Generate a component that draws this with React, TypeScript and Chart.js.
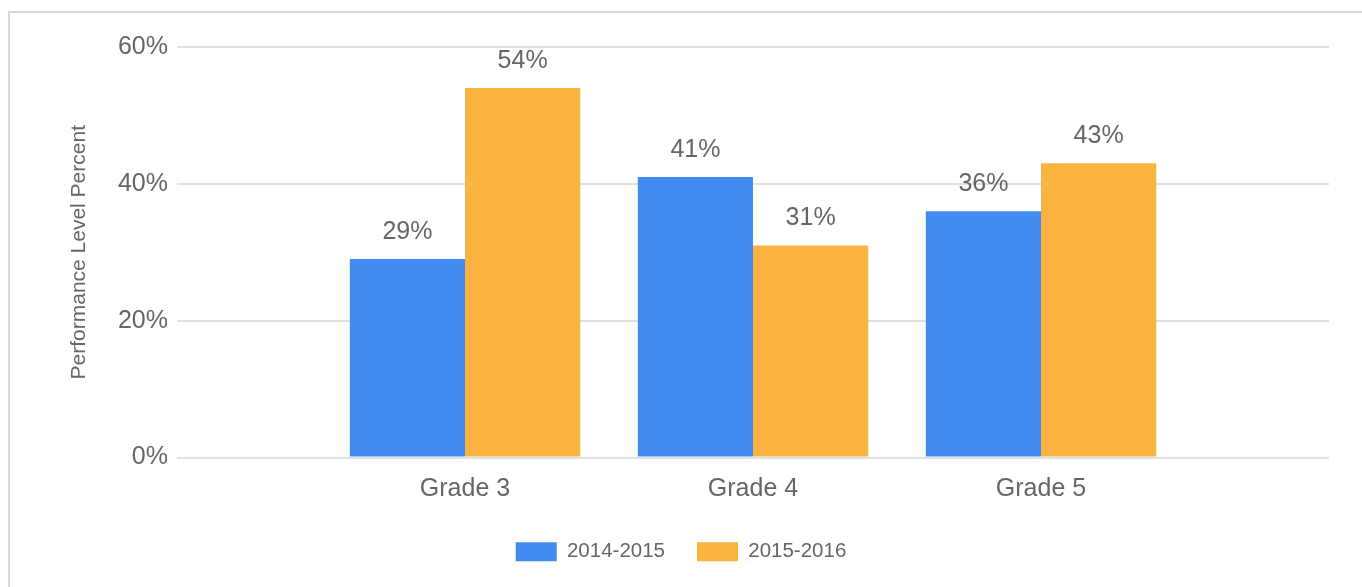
import React, { useEffect, useRef } from "react";
import { Chart, registerables } from "chart.js";

Chart.register(...registerables);

const categories = ["Grade 3", "Grade 4", "Grade 5"];
const seriesNames = ["2014-2015", "2015-2016"];
const values2014 = [29, 41, 36];
const values2015 = [54, 31, 43];
const colors = ["#428bf0", "#fab33f"];
const yTicks = [0, 20, 40, 60];
const yTitle = "Performance Level Percent";

const FONT = "'Liberation Sans', Arial, sans-serif";
const TEXT = "#666666";

const framePlugin = {
  id: "frame",
  beforeDraw(chart: any) {
    const ctx = chart.ctx;
    ctx.save();
    ctx.fillStyle = "#ffffff";
    ctx.fillRect(0, 0, chart.width, chart.height);
    ctx.fillStyle = "#d9d9d9";
    ctx.fillRect(8, 11, chart.width - 8, 2);
    ctx.fillRect(8, 11, 2, chart.height - 11);
    ctx.restore();
  },
};

const labelPlugin = {
  id: "barLabels",
  afterDatasetsDraw(chart: any) {
    const ctx = chart.ctx;
    ctx.save();
    ctx.font = `25px ${FONT}`;
    ctx.fillStyle = TEXT;
    ctx.textAlign = "center";
    ctx.textBaseline = "alphabetic";
    chart.data.datasets.forEach((ds: any, di: number) => {
      const meta = chart.getDatasetMeta(di);
      meta.data.forEach((bar: any, i: number) => {
        const v = ds.data[i].y;
        ctx.fillText(`${v}%`, bar.x, bar.y - 20);
      });
    });
    ctx.restore();
  },
};

export default function App() {
  const ref = useRef<HTMLCanvasElement>(null);
  useEffect(() => {
    if (!ref.current) return;
    const toPoints = (arr: number[]) => arr.map((v, i) => ({ x: i + 1, y: v }));
    const chart = new Chart(ref.current, {
      type: "bar",
      data: {
        datasets: [
          {
            label: seriesNames[0],
            data: toPoints(values2014),
            backgroundColor: colors[0],
            borderWidth: 0,
          },
          {
            label: seriesNames[1],
            data: toPoints(values2015),
            backgroundColor: colors[1],
            borderWidth: 0,
          },
        ],
      },
      options: {
        responsive: false,
        animation: false,
        devicePixelRatio: 1,
        layout: { padding: { left: 33, right: 33, top: 47, bottom: 15 } },
        datasets: {
          bar: { categoryPercentage: 0.8, barPercentage: 1.0 },
        },
        scales: {
          x: {
            type: "linear",
            offset: false,
            min: 0,
            max: categories.length + 1,
            afterBuildTicks: (scale: any) => {
              scale.ticks = categories.map((_, i) => ({ value: i + 1 }));
            },
            afterFit: (scale: any) => {
              scale.height = 52;
            },
            grid: { display: false, drawTicks: false, offset: false },
            border: { display: false },
            ticks: {
              padding: 17,
              color: TEXT,
              font: { size: 25, family: FONT },
              callback: (v: any) => categories[Number(v) - 1] ?? "",
            },
          },
          y: {
            min: 0,
            max: 60,
            afterBuildTicks: (scale: any) => {
              scale.ticks = yTicks.map((v) => ({ value: v }));
            },
            afterFit: (scale: any) => {
              scale.width = 144;
            },
            grid: { color: "#e0e0e0", lineWidth: 2, drawTicks: false },
            border: { display: false },
            ticks: {
              padding: 9,
              color: TEXT,
              font: { size: 25, family: FONT },
              callback: (v: any) => `${v}%`,
            },
            title: {
              display: true,
              text: yTitle,
              color: TEXT,
              font: { size: 21, family: FONT },
              padding: { top: 34, bottom: 0 },
            },
          },
        },
        plugins: {
          legend: {
            position: "bottom",
            labels: {
              boxWidth: 41,
              boxHeight: 19,
              padding: 32,
              color: TEXT,
              font: { size: 20.5, family: FONT },
            },
          },
          tooltip: { enabled: false },
        },
      },
      plugins: [framePlugin, labelPlugin],
    } as any);
    return () => chart.destroy();
  }, []);
  return (
    <div style={{ position: "absolute", left: 0, top: 0, width: 1362, height: 587 }}>
      <canvas ref={ref} width={1362} height={587} />
    </div>
  );
}
